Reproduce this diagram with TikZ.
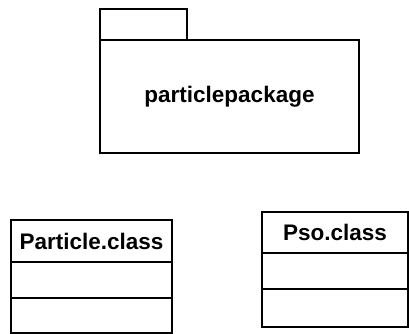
\documentclass[tikz,border=0pt]{standalone}
\usepackage{fontspec}
\setmainfont{Liberation Sans}
\usetikzlibrary{positioning}

\begin{document}
\begin{tikzpicture}[x=1pt, y=-1pt,
        box/.style={draw, line width=1.4pt, inner sep=0pt, outer sep=0pt},
        lbl/.style={font=\bfseries\fontsize{22.5}{26}\selectfont}]
        \useasboundingbox (0,0) rectangle (409,334);
        % package
        \node[box, minimum width=87pt, minimum height=31pt, anchor=north west] (tab) at (100,9) {};
        \node[box, lbl, minimum width=259pt, minimum height=113pt, anchor=north west] (pkg) at (tab.south west) {particlepackage};
        % classes
        \node[box, lbl, minimum width=161pt, minimum height=42pt, anchor=north west] (particle) at (11,220) {Particle.class};
        \node[box, minimum width=161pt, minimum height=36pt, below=0pt of particle] (particleattr) {};
        \node[box, minimum width=161pt, minimum height=35pt, below=0pt of particleattr] (particleops) {};
        \node[box, lbl, minimum width=146pt, minimum height=41pt, anchor=north west] (pso) at (262,212) {Pso.class};
        \node[box, minimum width=146pt, minimum height=36pt, below=0pt of pso] (psoattr) {};
        \node[box, minimum width=146pt, minimum height=38pt, below=0pt of psoattr] (psoops) {};
    \end{tikzpicture}
\end{document}
